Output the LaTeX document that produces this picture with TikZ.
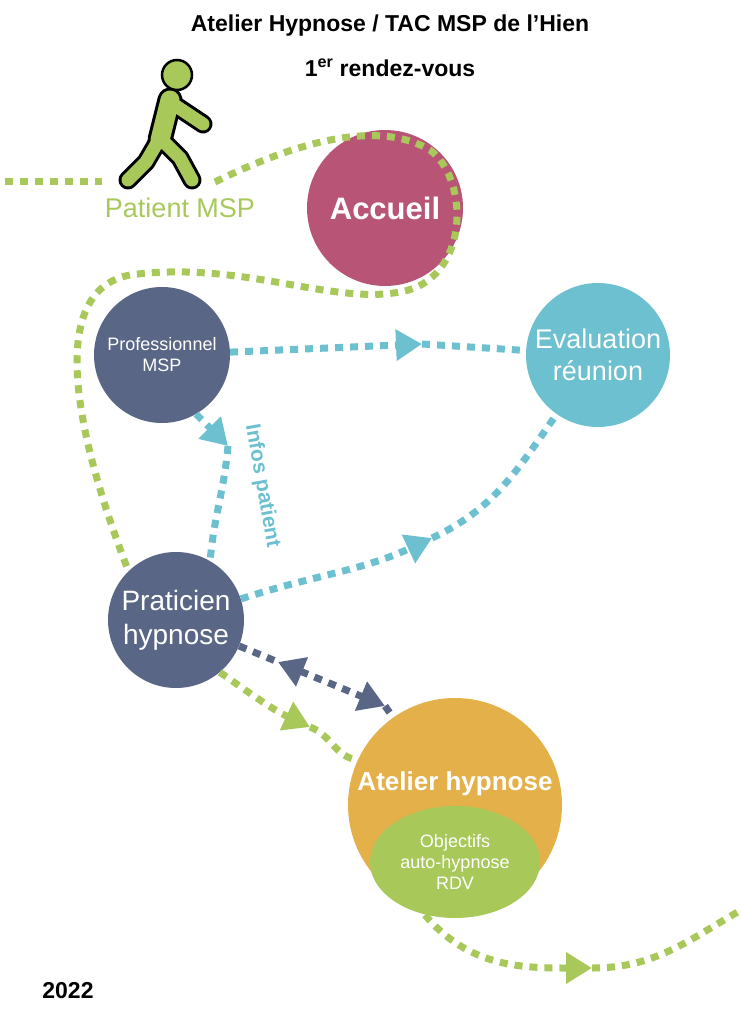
\documentclass[tikz,border=0pt]{standalone}
\usepackage{fontspec}
\setmainfont{Liberation Sans}
\usetikzlibrary{arrows.meta,shapes.geometric}
\definecolor{vert}{HTML}{A8C85A}
\definecolor{bleu}{HTML}{6CC0CF}
\definecolor{ardoise}{HTML}{5A6685}
\definecolor{rose}{HTML}{B85576}
\definecolor{orange}{HTML}{E4B04A}
\tikzset{
	etape/.style={circle, inner sep=0pt, text=white, align=center},
	flux/.style={line width=7pt, dash pattern=on 8pt off 7pt},
	pointe/.style={-{Triangle[length=26pt,width=30pt]}},
	membre/.style={line cap=round, line join=round}
}
\begin{document}
\begin{tikzpicture}[x=1pt,y=1pt]
\useasboundingbox (0,0) rectangle (741,-1024);
% titres
\node [font=\bfseries\fontsize{23}{26}\selectfont] (titre) at (390,-26) {Atelier Hypnose / TAC MSP de l'Hien};
\node [font=\bfseries\fontsize{23}{26}\selectfont] (rdv) at (390,-68) {1\textsuperscript{er} rendez-vous};
\node [font=\bfseries\fontsize{23}{26}\selectfont] (annee) at (68,-991) {2022};
% etapes
\node [etape, fill=rose, minimum size=156pt, font=\bfseries\fontsize{31}{34}\selectfont] (Accueil) at (385,-208) {Accueil};
\node [etape, fill=ardoise, minimum size=136pt, font=\fontsize{18}{21}\selectfont] (Professionnel) at (162,-355) {Professionnel\\MSP};
\node [etape, fill=bleu, minimum size=144pt, font=\fontsize{27}{32}\selectfont] (Evaluation) at (598,-355) {Evaluation\\réunion};
\node [etape, fill=ardoise, minimum size=136pt, font=\fontsize{28}{34}\selectfont] (Praticien) at (176,-620) {Praticien\\hypnose};
\node [etape, fill=orange, minimum size=214pt] (Atelier) at (455,-805) {};
\node [fill=vert, ellipse, minimum width=170pt, minimum height=112pt, inner sep=0pt, text=white, align=center, font=\fontsize{18}{21}\selectfont] (Objectifs) at (455,-862) {Objectifs\\auto-hypnose\\RDV};
\node [text=white, font=\bfseries\fontsize{26}{30}\selectfont] (AtelierTxt) at (455,-784) {Atelier hypnose};
% patient
\node [text=vert, font=\fontsize{27}{31}\selectfont] (Patient) at (180,-208) {Patient MSP};
\foreach \c/\w in {black/19, vert/13}{
	\draw [membre, \c, line width=\w pt] (160,-138) -- (146,-162) -- (128,-180);
	\draw [membre, \c, line width=\w pt] (160,-138) -- (180,-158) -- (192,-180);
	\draw [membre, \c, line width=\w pt] (170,-102) -- (188,-114) -- (203,-124);
	\draw [membre, \c, line width=\w+6 pt] (170,-100) -- (160,-140);
}
\draw [black, fill=vert, line width=2.5pt] (177,-75) circle (15pt);
% chemin du patient
\coordinate (depart) at (5,-182);
\coordinate (coupure) at (102,-182);
\coordinate (reprise) at (215,-182);
\coordinate (vers atelier) at (310,-727);
\coordinate (sortie) at (425,-915);
\coordinate (vers suite) at (592,-968);
\coordinate (fin) at (741,-910);
\draw [flux, vert] (depart) -- (coupure);
\draw [flux, vert] (reprise) .. controls (300,-140) and (380,-120) .. (430,-150)
	.. controls (470,-180) and (470,-280) .. (400,-292)
	.. controls (330,-305) and (240,-260) .. (130,-275)
	.. controls (50,-290) and (70,-420) .. (128,-570);
\draw [flux, vert, pointe] (Praticien.-50) to[out=-35, in=155] (vers atelier);
\draw [flux, vert] (vers atelier) to[out=-20, in=175] (Atelier.155);
\draw [flux, vert, pointe] (sortie) to[out=-50, in=180] (vers suite);
\draw [flux, vert] (vers suite) to[out=0, in=210] (fin);
% informations
\coordinate (vers eval) at (422,-344);
\coordinate (vers praticien) at (228,-446);
\coordinate (retour eval) at (432,-538);
\coordinate (tete gauche) at (278,-662);
\coordinate (tete droite) at (385,-706);
\draw [flux, bleu, pointe] (Professionnel) -- (vers eval);
\draw [flux, bleu] (vers eval) -- (Evaluation);
\draw [flux, bleu, pointe] (Professionnel.-60) -- (vers praticien);
\draw [flux, bleu] (vers praticien) to[out=-95, in=85] (Praticien.60);
\draw [flux, bleu, pointe] (Praticien) to[out=18, in=205] (retour eval);
\draw [flux, bleu] (retour eval) to[out=25, in=235] (Evaluation);
\draw [flux, ardoise] (Praticien) -- (tete gauche);
\draw [flux, ardoise, {Triangle[length=26pt,width=30pt]}-{Triangle[length=26pt,width=30pt]}] (tete gauche) -- (tete droite);
\draw [flux, ardoise] (tete droite) -- (Atelier);
\node [text=bleu, rotate=-80, font=\bfseries\fontsize{21}{24}\selectfont] (Infos) at (262,-486) {Infos patient};
\end{tikzpicture}
\end{document}
